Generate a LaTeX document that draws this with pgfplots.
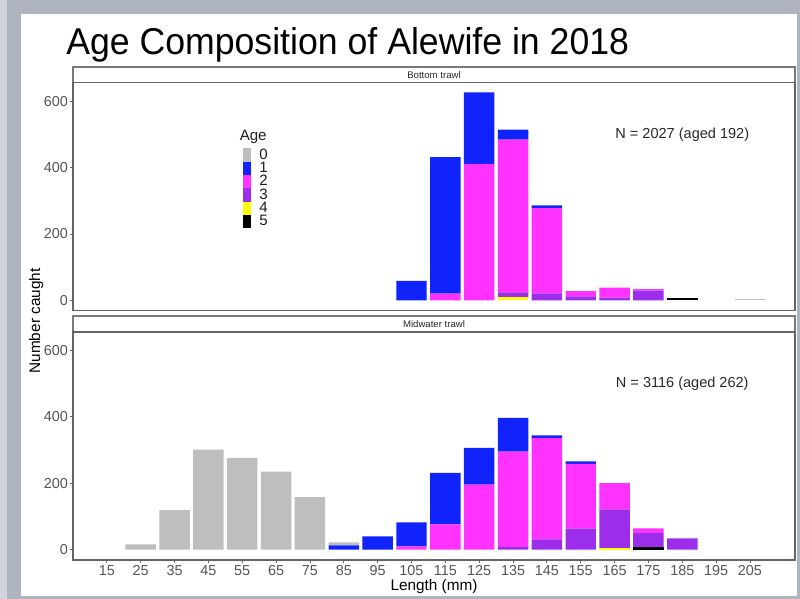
\documentclass[border=0pt]{standalone}
\usepackage{pgfplots}
\pgfplotsset{compat=1.18}
\usepackage{pgfplotstable}
\usepackage{fontspec}
\setmainfont{Liberation Sans}
\definecolor{cgray}{RGB}{190,190,190}
\definecolor{cblue}{RGB}{15,35,250}
\definecolor{cmag}{RGB}{255,50,255}
\definecolor{cpur}{RGB}{155,45,235}
\definecolor{cyel}{RGB}{255,255,0}
\definecolor{cblk}{RGB}{0,0,0}
\definecolor{tickgray}{RGB}{85,85,85}
\definecolor{framegray}{RGB}{175,180,192}
\definecolor{bordergray}{RGB}{100,100,100}

\pgfplotstableread{
x   a0  a1  a2  a3  a4  a5
15  0   0   0   0   0   0
25  0   0   0   0   0   0
35  0   0   0   0   0   0
45  0   0   0   0   0   0
55  0   0   0   0   0   0
65  0   0   0   0   0   0
75  0   0   0   0   0   0
85  0   0   0   0   0   0
95  0   0   0   0   0   0
105 0   59  0   0   0   0
115 0   411 20  0   0   0
125 0   215 411 0   0   0
135 0   30  460 15  9   0
145 0   8   257 21  0   0
155 0   0   16  12  0   0
165 0   0   30  8   0   0
175 0   0   5   29  0   0
185 0   0   0   0   0   8
195 0   0   0   0   0   0
205 3   0   0   0   0   0
}\bottomtrawl

\pgfplotstableread{
x   a0  a1  a2  a3  a4  a5
15  0   0   0   0   0   0
25  16  0   0   0   0   0
35  119 0   0   0   0   0
45  301 0   0   0   0   0
55  276 0   0   0   0   0
65  235 0   0   0   0   0
75  158 0   0   0   0   0
85  9   13  0   0   0   0
95  0   40  0   0   0   0
105 0   72  10  0   0   0
115 0   155 76  0   0   0
125 0   110 196 0   0   0
135 0   102 287 8   0   0
145 0   8   305 31  0   0
155 0   8   195 63  0   0
165 0   0   79  116 5   0
175 0   0   14  42  0   8
185 0   0   0   34  0   0
195 0   0   0   0   0   0
205 0   0   0   0   0   0
}\midwater

\pgfplotsset{
  panel/.style={
    scale only axis,
    width=541.5pt, height=171pt,
    xmin=5, xmax=218.3,
    ymin=-31.2, ymax=655.2,
    ybar stacked, bar width=9,
    axis line style={draw=bordergray, line width=0.8pt},
    ytick={0,200,400,600},
    ytick pos=left,
    tick align=outside,
    major tick length=2.2pt,
    tick style={draw=bordergray, line width=0.6pt},
    ticklabel style={font=\fontsize{10.8}{12}\selectfont, text=tickgray, inner sep=1.5pt},
    /pgf/number format/assume math mode=true,
  },
}

\begin{document}
\begin{tikzpicture}
% frame / background
\begin{scope}[x=0.75pt,y=0.75pt]
  \fill[framegray] (0,0) rectangle (800,599);
  \fill[color={rgb,255:red,208;green,211;blue,218}] (0,0) rectangle (7,599);
  \fill[white] (21,3) rectangle (797,585);
  \useasboundingbox (0,0) rectangle (800,599);
  % title
  \node[anchor=base west, inner sep=0pt] at (66,544) {\scalebox{0.955}[1]{\fontsize{28}{32}\selectfont Age Composition of Alewife in 2018}};
  % strips
  \draw[draw={rgb,255:red,120;green,120;blue,120}, line width=0.8pt, fill=white] (73,516.3) rectangle (795,532);
  \node[font=\fontsize{7.2}{9}\selectfont, text={rgb,255:red,40;green,40;blue,40}] at (434,524.2) {Bottom trawl};
  \draw[draw={rgb,255:red,120;green,120;blue,120}, line width=0.8pt, fill=white] (73,267.3) rectangle (795,283);
  \node[font=\fontsize{7.2}{9}\selectfont, text={rgb,255:red,40;green,40;blue,40}] at (434,275.2) {Midwater trawl};
  % axis titles
  \node[anchor=base, inner sep=0pt, font=\fontsize{11.5}{13}\selectfont] at (434,8) {Length (mm)};
  \node[anchor=base, rotate=90, inner sep=0pt, font=\fontsize{11.5}{13}\selectfont] at (40,278) {Number caught};
\end{scope}

% top panel
\begin{axis}[panel,
  at={(54.75pt,216.2pt)}, anchor=south west,
  xtick=\empty,
  legend image code/.code={\fill[#1] (0pt,-5pt) rectangle (5.5pt,5pt);},
  legend style={at={(axis cs:55.3,458)}, anchor=north west, draw=none, fill=none,
    inner sep=0pt, outer sep=0pt, row sep=0pt, column sep=6.5pt,
    nodes={inner sep=0pt, font=\fontsize{11.3}{12}\selectfont, text={rgb,255:red,30;green,30;blue,30}}},
  legend cell align=left,
]
\addplot[fill=cblk, draw=none, forget plot] table[x=x,y=a5] {\bottomtrawl};
\addplot[fill=cyel, draw=none, forget plot] table[x=x,y=a4] {\bottomtrawl};
\addplot[fill=cpur, draw=none, forget plot] table[x=x,y=a3] {\bottomtrawl};
\addplot[fill=cmag, draw=none, forget plot] table[x=x,y=a2] {\bottomtrawl};
\addplot[fill=cblue, draw=none, forget plot] table[x=x,y=a1] {\bottomtrawl};
\addplot[fill=cgray, draw=none, forget plot] table[x=x,y=a0] {\bottomtrawl};
\addlegendimage{fill=cgray, draw=none}\addlegendentry{0}
\addlegendimage{fill=cblue, draw=none}\addlegendentry{1}
\addlegendimage{fill=cmag, draw=none}\addlegendentry{2}
\addlegendimage{fill=cpur, draw=none}\addlegendentry{3}
\addlegendimage{fill=cyel, draw=none}\addlegendentry{4}
\addlegendimage{fill=cblk, draw=none}\addlegendentry{5}
\node[anchor=base west, inner sep=0pt, font=\fontsize{11.3}{12}\selectfont, text={rgb,255:red,30;green,30;blue,30}] at (axis cs:54.2,480) {Age};
\node[font=\fontsize{10.9}{12}\selectfont, text={rgb,255:red,40;green,40;blue,40}] at (axis cs:185,498) {N = 2027 (aged 192)};
\end{axis}

% bottom panel
\begin{axis}[panel,
  at={(54.75pt,29.25pt)}, anchor=south west,
  xtick={15,25,...,205},
  xtick pos=left,
]
\addplot[fill=cblk, draw=none] table[x=x,y=a5] {\midwater};
\addplot[fill=cyel, draw=none] table[x=x,y=a4] {\midwater};
\addplot[fill=cpur, draw=none] table[x=x,y=a3] {\midwater};
\addplot[fill=cmag, draw=none] table[x=x,y=a2] {\midwater};
\addplot[fill=cblue, draw=none] table[x=x,y=a1] {\midwater};
\addplot[fill=cgray, draw=none] table[x=x,y=a0] {\midwater};
\node[font=\fontsize{10.9}{12}\selectfont, text={rgb,255:red,40;green,40;blue,40}] at (axis cs:185,500) {N = 3116 (aged 262)};
\end{axis}
\end{tikzpicture}
\end{document}
